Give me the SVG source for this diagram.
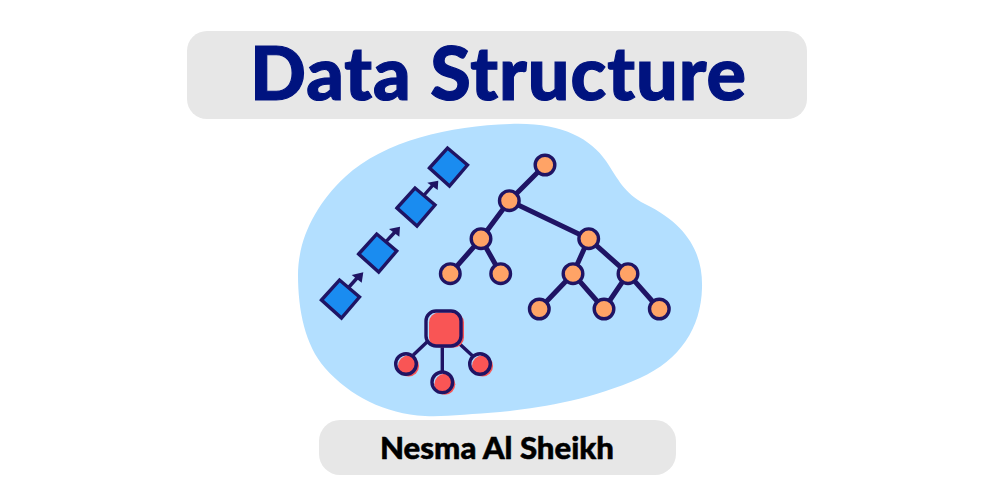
<svg xmlns="http://www.w3.org/2000/svg" width="1000" height="500" viewBox="0 0 1000 500">
<defs>
<style>
.pill{fill:#e7e7e7}
.title{font-family:"Lato","Liberation Sans",sans-serif;font-weight:900;font-size:74px;letter-spacing:1px;fill:#00137f;stroke:#00137f;stroke-width:1.2;text-anchor:middle}
.author{font-family:"Lato","Liberation Sans",sans-serif;font-weight:900;font-size:30px;fill:#000;stroke:#000;stroke-width:.5;text-anchor:middle}
.edge{stroke:#1f1464;stroke-width:5;fill:none;stroke-linecap:round}
.thin{stroke:#1f1464;stroke-width:3.4;fill:none}
.ring{fill:none;stroke:#1f1464;stroke-width:3.4}
.o{fill:#ffa366}
.r{fill:#f95555}
.b{fill:#1a8cf0}
.arrow{fill:#1f1464}
</style>
<g id="orange"><circle cx="0.8" cy="0.6" r="9.8" class="o"/><circle r="9.8" class="ring"/></g>
<g id="red"><circle cx="2.5" cy="2" r="10.5" class="r"/><circle r="10.3" class="ring"/></g>
<g id="box"><polygon points="-18,1 0,-19 20,-2 2,19" class="b" transform="translate(1,0)"/><polygon points="-18,1 0,-19 20,-2 2,19" class="ring"/></g>
</defs>
<rect width="1000" height="500" fill="#fff"/>
<g id="title-node"><rect class="pill" x="187" y="31" width="620" height="88" rx="20"/><text class="title" x="498.5" y="100" textLength="497" lengthAdjust="spacingAndGlyphs">Data Structure</text></g>
<g id="author-node"><rect class="pill" x="319" y="420" width="357" height="55" rx="21"/><text class="author" x="497" y="459" textLength="234" lengthAdjust="spacingAndGlyphs">Nesma Al Sheikh</text></g>
<path id="blob" fill="#b3dfff" d="M510 124C560 122 590 138 606 161C618 179 624 193 645 204C690 226 703 256 702 288C701 328 680 360 640 378C590 400 540 408 500 412C470 414 445 417 425 416C385 414 350 396 325 368C305 345 298 310 298 275C298 240 315 205 345 177C385 140 450 126 510 124Z"/>
<g id="connectors">
<path class="edge" d="M545 165L509.3 200.7M509.3 200.7L481 238.7M481 238.7L450.3 273.7M481 238.7L500.7 273.7M509.3 200.7L588.7 238.7M588.7 238.7L573 273.7M588.7 238.7L628 273.7M573 273.7L539.3 309M573 273.7L604 309M628 273.7L604 309M628 273.7L659.3 309"/>
<path class="thin" d="M413.3 355L428.3 340.7M442.3 347L442.3 372M460 344.3L472.7 356"/>
<path class="thin" d="M349 287L358 277M386 241.7L395 232M423.3 196L433 185"/>
<polygon class="arrow" points="363.3,272.3 351.7,275 361.7,282.7"/>
<polygon class="arrow" points="400,226.7 389,229 399.3,236.7"/>
<polygon class="arrow" points="438.3,180.7 427.3,182.7 437.7,190"/>
</g>
<g id="list-1"><use href="#box" x="339.5" y="299"/></g>
<g id="list-2"><use href="#box" x="376.7" y="253"/></g>
<g id="list-3"><use href="#box" x="415" y="207"/></g>
<g id="list-4"><use href="#box" x="447.5" y="167"/></g>
<g id="tree-1"><use href="#orange" x="545" y="165"/></g>
<g id="tree-2"><use href="#orange" x="509.3" y="200.7"/></g>
<g id="tree-3"><use href="#orange" x="481" y="238.7"/></g>
<g id="tree-4"><use href="#orange" x="450.3" y="273.7"/></g>
<g id="tree-5"><use href="#orange" x="500.7" y="273.7"/></g>
<g id="tree-6"><use href="#orange" x="588.7" y="238.7"/></g>
<g id="tree-7"><use href="#orange" x="573" y="273.7"/></g>
<g id="tree-8"><use href="#orange" x="628" y="273.7"/></g>
<g id="tree-9"><use href="#orange" x="539.3" y="309"/></g>
<g id="tree-10"><use href="#orange" x="604" y="309"/></g>
<g id="tree-11"><use href="#orange" x="659.3" y="309"/></g>
<g id="hub"><rect class="r" x="429" y="312.5" width="35" height="35" rx="10"/><rect class="ring" x="426" y="311" width="35" height="35" rx="10"/></g>
<g id="leaf-1"><use href="#red" x="406" y="364"/></g>
<g id="leaf-2"><use href="#red" x="442.3" y="382.3"/></g>
<g id="leaf-3"><use href="#red" x="480" y="364"/></g>
</svg>
